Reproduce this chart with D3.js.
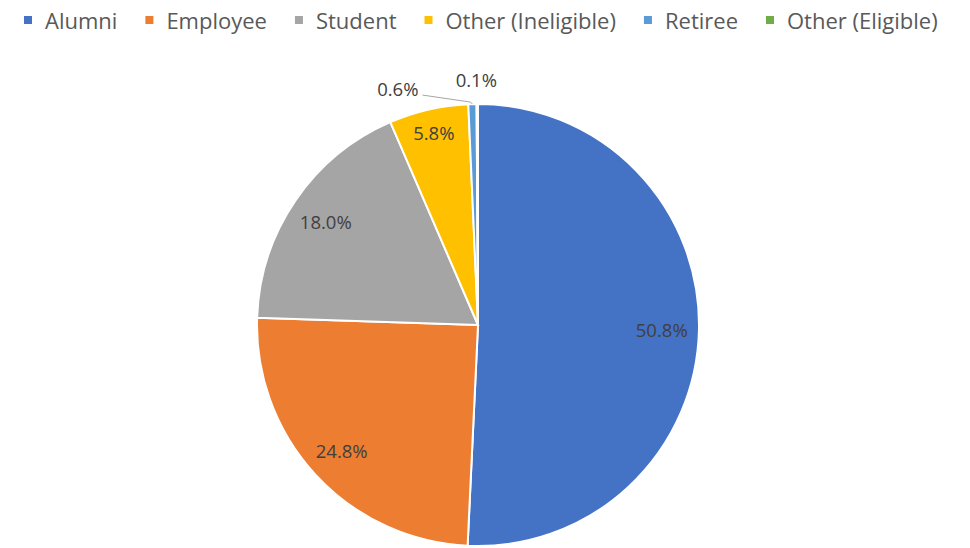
<!DOCTYPE html>
<html>
<head>
<meta charset="utf-8">
<script src="https://cdn.jsdelivr.net/npm/d3@7"></script>
<style>
  body { margin: 0; background: #fff; }
  text { font-family: "Open Sans", "Noto Sans", sans-serif; }
</style>
</head>
<body>
<div id="chart"></div>
<script>
const categories = ["Alumni", "Employee", "Student", "Other (Ineligible)", "Retiree", "Other (Eligible)"];
const values = [50.8, 24.8, 18.0, 5.8, 0.6, 0.1];
const labels = ["50.8%", "24.8%", "18.0%", "5.8%", "0.6%", "0.1%"];
const colours = ["#4472C4", "#ED7D31", "#A5A5A5", "#FFC000", "#5B9BD5", "#70AD47"];

const width = 970, height = 548;
const cx = 478, cy = 325, radius = 221;

const svg = d3.select("#chart")
  .append("svg")
  .attr("width", width)
  .attr("height", height);

const data = categories.map((c, i) => ({ name: c, value: values[i], label: labels[i], colour: colours[i] }));

const pie = d3.pie()
  .value(d => d.value)
  .sort(null);

const arcs = pie(data);

const arc = d3.arc()
  .innerRadius(0)
  .outerRadius(radius);

const g = svg.append("g")
  .attr("transform", `translate(${cx}, ${cy})`);

// slices
g.selectAll("path")
  .data(arcs)
  .join("path")
  .attr("d", arc)
  .attr("fill", d => d.data.colour)
  .attr("stroke", "#fff")
  .attr("stroke-width", 2);

// "inside end" labels: push the text box out until its outer corner sits just inside the rim
const rimInset = radius - 11;
const inside = g.selectAll("text.inside")
  .data(arcs.filter(d => d.data.value >= 5))
  .join("text")
  .attr("class", "inside")
  .attr("text-anchor", "middle")
  .attr("dominant-baseline", "central")
  .style("font-size", "18.5px")
  .style("fill", "#404040")
  .text(d => d.data.label);

inside.attr("transform", function (d) {
  const a = (d.startAngle + d.endAngle) / 2;
  const u = [Math.sin(a), -Math.cos(a)];
  const w = this.getComputedTextLength(), h = 15;
  const c = [Math.sign(u[0]) * w / 2, Math.sign(u[1]) * h / 2];
  const uc = u[0] * c[0] + u[1] * c[1];
  const cc = c[0] * c[0] + c[1] * c[1];
  const dist = -uc + Math.sqrt(uc * uc - cc + rimInset * rimInset);
  return `translate(${u[0] * dist}, ${u[1] * dist})`;
});

// outside labels for the tiny slices
const retiree = arcs[4], eligible = arcs[5];
const outerPt = (a, r) => [Math.sin(a) * r, -Math.cos(a) * r];

const rMid = (retiree.startAngle + retiree.endAngle) / 2;
const p0 = outerPt(rMid, radius);
g.append("polyline")
  .attr("points", [p0, [p0[0] - 2, p0[1] - 2], [p0[0] - 50, p0[1] - 9]].map(p => p.join(",")).join(" "))
  .attr("fill", "none")
  .attr("stroke", "#a6a6a6")
  .attr("stroke-width", 1);

g.append("text")
  .attr("x", p0[0] - 54)
  .attr("y", p0[1] - 16)
  .attr("text-anchor", "end")
  .attr("dominant-baseline", "central")
  .style("font-size", "18.5px")
  .style("fill", "#404040")
  .text(retiree.data.label);

const eMid = (eligible.startAngle + eligible.endAngle) / 2;
const p1 = outerPt(eMid, radius);
g.append("text")
  .attr("x", p1[0] - 1)
  .attr("y", p1[1] - 25)
  .attr("text-anchor", "middle")
  .attr("dominant-baseline", "central")
  .style("font-size", "18.5px")
  .style("fill", "#404040")
  .text(eligible.data.label);

// legend
const legend = svg.append("g").attr("transform", "translate(24, 20)");
let xPos = 0;
data.forEach(d => {
  const item = legend.append("g").attr("transform", `translate(${xPos}, 0)`);
  item.append("rect")
    .attr("x", 0)
    .attr("y", -4)
    .attr("width", 8)
    .attr("height", 8)
    .attr("fill", d.colour);
  const t = item.append("text")
    .attr("x", 21)
    .attr("y", 0)
    .attr("dominant-baseline", "central")
    .style("font-size", "22px")
    .style("fill", "#595959")
    .text(d.name);
  xPos += 21 + t.node().getComputedTextLength() + 28;
});
</script>
</body>
</html>
